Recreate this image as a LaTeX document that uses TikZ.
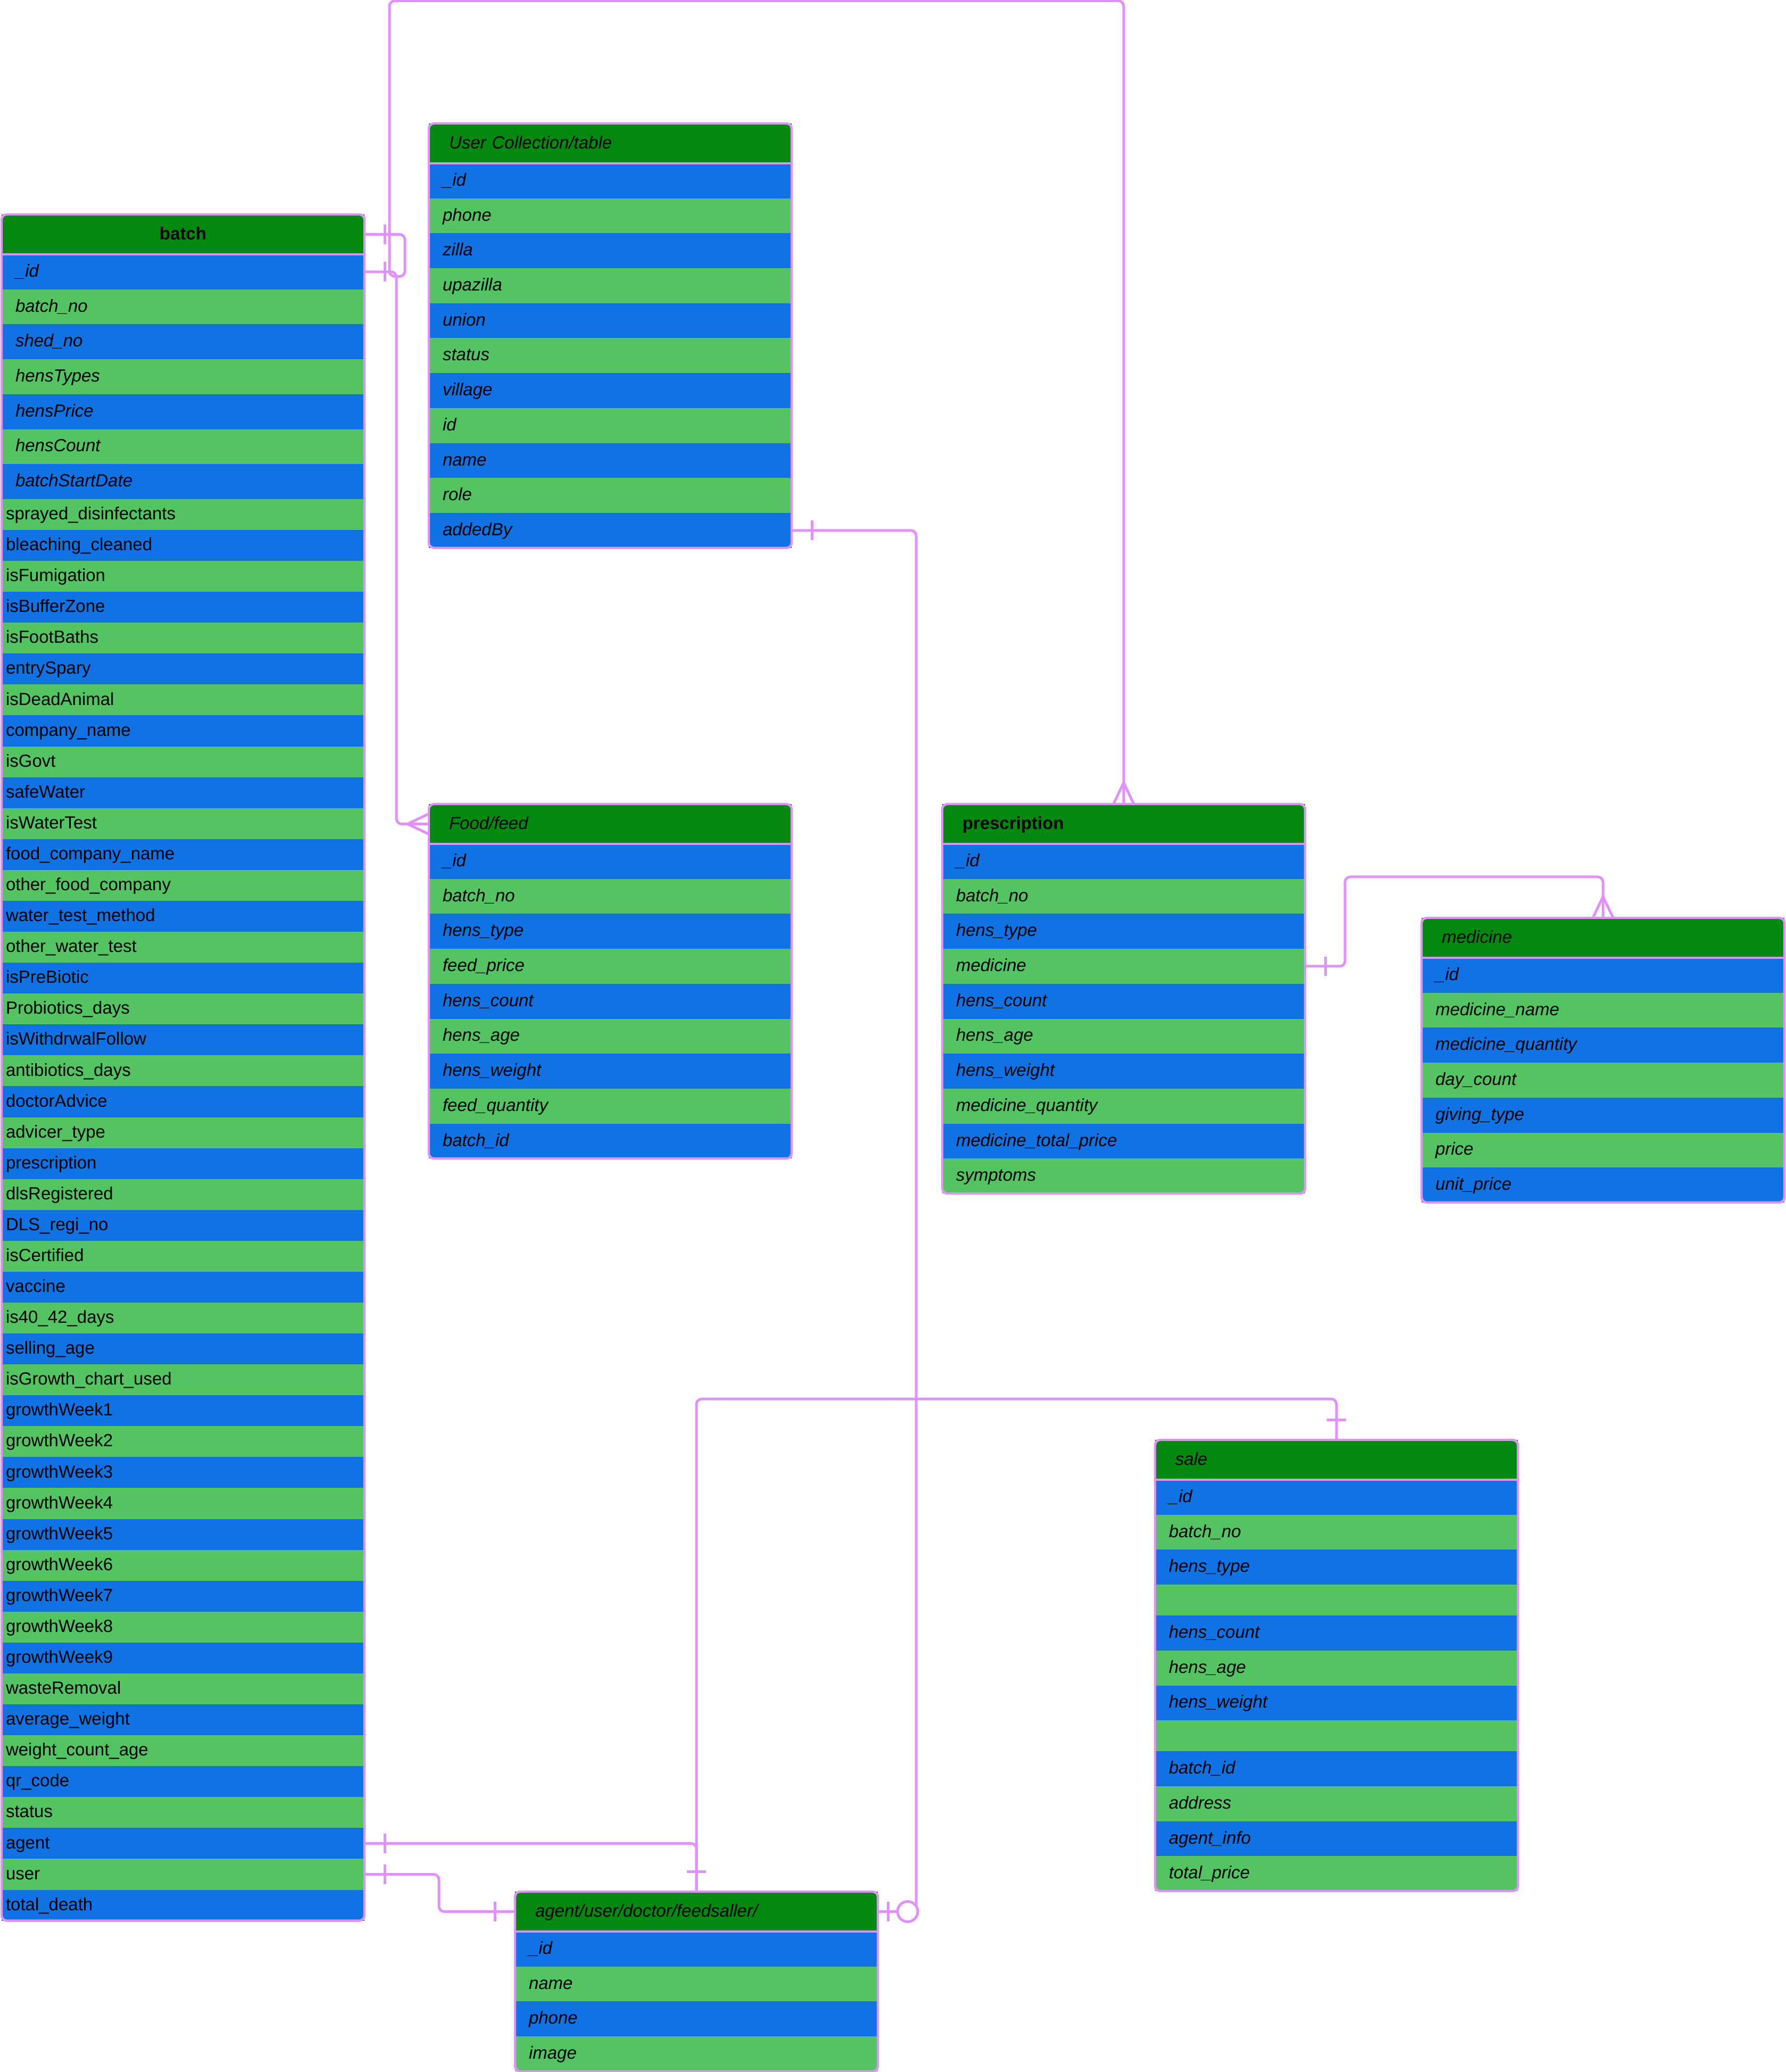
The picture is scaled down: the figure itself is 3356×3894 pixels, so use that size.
\documentclass[tikz,border=0pt]{standalone}
\usepackage{fontspec}
\setmainfont{Liberation Sans}
\usetikzlibrary{positioning,decorations.markings}
\definecolor{headgreen}{HTML}{03890F}
\definecolor{rowblue}{HTML}{1072E3}
\definecolor{rowgreen}{HTML}{54C462}
\definecolor{linkpink}{HTML}{E092FA}

\begin{document}
\begin{tikzpicture}[x=0.25pt, y=-0.25pt,
  head/.style={anchor=north west, fill=headgreen, minimum width=170.5pt, minimum height=18.75pt, inner xsep=9.5pt, inner ysep=0pt, outer sep=0pt, text width=151.5pt, text height=6.6pt, text depth=1.8pt, align=left, font=\fontsize{8.25pt}{9.9pt}\selectfont\itshape},
  boldhead/.style={head, align=center, font=\fontsize{8.25pt}{9.9pt}\selectfont\bfseries},
  boldlefthead/.style={head, font=\fontsize{8.25pt}{9.9pt}\selectfont\bfseries},
  field/.style={minimum width=170.5pt, minimum height=16.425pt, inner xsep=6.5pt, inner ysep=0pt, outer sep=0pt, text width=157.5pt, text height=6.6pt, text depth=1.8pt, align=left, font=\fontsize{8.25pt}{9.9pt}\selectfont\itshape},
  plainfield/.style={field, minimum height=14.52pt, inner xsep=2pt, text width=166.5pt, font=\fontsize{8.25pt}{9.9pt}\selectfont},
  tableframe/.style={draw=linkpink, line width=1.1pt, rounded corners=2.5pt},
  link/.style={draw=linkpink, line width=1.25pt, rounded corners=2.5pt},
  one start/.style={postaction={decorate, decoration={markings, mark=at position 9.5pt with {\draw[linkpink, line width=1.25pt] (0pt,-4.6pt) -- (0pt,4.6pt);}}}},
  one end/.style={postaction={decorate, decoration={markings, mark=at position -9.5pt with {\draw[linkpink, line width=1.25pt] (0pt,-4.6pt) -- (0pt,4.6pt);}}}},
  many end/.style={postaction={decorate, decoration={markings, mark=at position -0.01pt with {\draw[linkpink, line width=1.25pt] (-10pt,0pt) -- (0pt,4.75pt) (-10pt,0pt) -- (0pt,-4.75pt);}}}},
  zero one end/.style={postaction={decorate, decoration={markings,
      mark=at position -4.75pt with {\draw[linkpink, line width=1.25pt] (0pt,-4.6pt) -- (0pt,4.6pt);},
      mark=at position -14pt with {\draw[linkpink, line width=1.25pt, fill=white] (0pt,0pt) circle[radius=4.75pt];}}}}
]
\useasboundingbox (0,0) rectangle (3356,3894);

% batch
\node[boldhead, alias=batch-0] (batch) at (3,403) {batch};
\foreach \f [count=\i, remember=\i as \j (initially 0)] in {\_id, batch\_no, shed\_no, hensTypes, hensPrice, hensCount, batchStartDate} {
  \ifodd\i \def\rc{rowblue}\else\def\rc{rowgreen}\fi
  \node[field, fill=\rc, below=0pt of batch-\j] (batch-\i) {\f};
}
\foreach \f [count=\i from 8, remember=\i as \j (initially 7)] in {sprayed\_disinfectants, bleaching\_cleaned, isFumigation, isBufferZone, isFootBaths, entrySpary, isDeadAnimal, company\_name, isGovt, safeWater, isWaterTest, food\_company\_name, other\_food\_company, water\_test\_method, other\_water\_test, isPreBiotic, Probiotics\_days, isWithdrwalFollow, antibiotics\_days, doctorAdvice, advicer\_type, prescription, dlsRegistered, DLS\_regi\_no, isCertified, vaccine, is40\_42\_days, selling\_age, isGrowth\_chart\_used, growthWeek1, growthWeek2, growthWeek3, growthWeek4, growthWeek5, growthWeek6, growthWeek7, growthWeek8, growthWeek9, wasteRemoval, average\_weight, weight\_count\_age, qr\_code, status, agent, user, total\_death} {
  \ifodd\i \def\rc{rowblue}\else\def\rc{rowgreen}\fi
  \node[plainfield, fill=\rc, below=0pt of batch-\j] (batch-\i) {\f};
}
\draw[tableframe] (batch.north west) rectangle (batch-53.south east);
\draw[tableframe] (batch.south west) -- (batch.south east);

% users
\node[head, alias=user-0] (user) at (806,232) {User Collection/table};
\foreach \f [count=\i, remember=\i as \j (initially 0)] in {\_id, phone, zilla, upazilla, union, status, village, id, name, role, addedBy} {
  \ifodd\i \def\rc{rowblue}\else\def\rc{rowgreen}\fi
  \node[field, fill=\rc, below=0pt of user-\j] (user-\i) {\f};
}
\draw[tableframe] (user.north west) rectangle (user-11.south east);
\draw[tableframe] (user.south west) -- (user.south east);

% feed
\node[head, alias=food-0] (food) at (806,1511) {Food/feed};
\foreach \f [count=\i, remember=\i as \j (initially 0)] in {\_id, batch\_no, hens\_type, feed\_price, hens\_count, hens\_age, hens\_weight, feed\_quantity, batch\_id} {
  \ifodd\i \def\rc{rowblue}\else\def\rc{rowgreen}\fi
  \node[field, fill=\rc, below=0pt of food-\j] (food-\i) {\f};
}
\draw[tableframe] (food.north west) rectangle (food-9.south east);
\draw[tableframe] (food.south west) -- (food.south east);

% prescription
\node[boldlefthead, alias=presc-0] (presc) at (1771,1511) {prescription};
\foreach \f [count=\i, remember=\i as \j (initially 0)] in {\_id, batch\_no, hens\_type, medicine, hens\_count, hens\_age, hens\_weight, medicine\_quantity, medicine\_total\_price, symptoms} {
  \ifodd\i \def\rc{rowblue}\else\def\rc{rowgreen}\fi
  \node[field, fill=\rc, below=0pt of presc-\j] (presc-\i) {\f};
}
\draw[tableframe] (presc.north west) rectangle (presc-10.south east);
\draw[tableframe] (presc.south west) -- (presc.south east);

% medicine
\node[head, alias=med-0] (med) at (2672,1725) {medicine};
\foreach \f [count=\i, remember=\i as \j (initially 0)] in {\_id, medicine\_name, medicine\_quantity, day\_count, giving\_type, price, unit\_price} {
  \ifodd\i \def\rc{rowblue}\else\def\rc{rowgreen}\fi
  \node[field, fill=\rc, below=0pt of med-\j] (med-\i) {\f};
}
\draw[tableframe] (med.north west) rectangle (med-7.south east);
\draw[tableframe] (med.south west) -- (med.south east);

% sale (two blank rows are shorter)
\node[head, alias=sale-0] (sale) at (2171,2706) {sale};
\foreach \f/\h [count=\i, remember=\i as \j (initially 0)] in {\_id/16.425pt, batch\_no/16.425pt, hens\_type/16.425pt, {}/14.5pt, hens\_count/16.425pt, hens\_age/16.425pt, hens\_weight/16.425pt, {}/14.5pt, batch\_id/16.425pt, address/16.425pt, agent\_info/16.425pt, total\_price/16.425pt} {
  \ifodd\i \def\rc{rowblue}\else\def\rc{rowgreen}\fi
  \node[field, minimum height=\h, fill=\rc, below=0pt of sale-\j] (sale-\i) {\f};
}
\draw[tableframe] (sale.north west) rectangle (sale-12.south east);
\draw[tableframe] (sale.south west) -- (sale.south east);

% agent
\node[head, alias=agent-0] (agent) at (968,3555) {agent/user/doctor/feedsaller/};
\foreach \f [count=\i, remember=\i as \j (initially 0)] in {\_id, name, phone, image} {
  \ifodd\i \def\rc{rowblue}\else\def\rc{rowgreen}\fi
  \node[field, fill=\rc, below=0pt of agent-\j] (agent-\i) {\f};
}
\draw[tableframe] (agent.north west) rectangle (agent-4.south east);
\draw[tableframe] (agent.south west) -- (agent.south east);

% relations
\draw[link, one start, many end] (batch.east) -- ++(76,0) -- ++(0,79) -- ++(-29,0) -- ++(0,-518) -| (presc.north);
\draw[link, one start, many end] (batch-1.east) -- ++(60,0) |- (food.west);
\draw[link, one start, many end] (presc-4.east) -- ++(75,0) -- ++(0,-168) -| (med.north);
\draw[link, one start, one end] (sale.north) -- ++(0,-77) -| (agent.north);
\draw[link, one start, one end] (batch-51.east) -| (agent.north);
\draw[link, one start, one end] (batch-52.east) -- ++(140,0) |- (agent.west);
\draw[link, one start, zero one end] (user-11.east) -- ++(234,0) |- (agent.east);
\end{tikzpicture}
\end{document}
